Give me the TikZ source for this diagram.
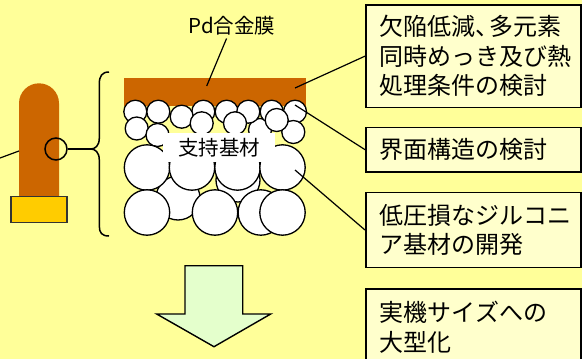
\documentclass[tikz,border=0pt]{standalone}
\usepackage{fontspec}
\setmainfont{Noto Sans CJK JP}
\begin{document}
\definecolor{bgyellow}{RGB}{255,255,153}
\definecolor{pdbrown}{RGB}{204,102,0}
\definecolor{baseyellow}{RGB}{255,204,0}
\definecolor{boxfill}{RGB}{255,255,204}
\definecolor{arrowgreen}{RGB}{228,255,204}
\begin{tikzpicture}[x=1pt,y=-1pt,
  topicbox/.style={draw=black, line width=1.6pt, fill=boxfill, anchor=north west,
    minimum width=215pt, text width=187pt, inner xsep=14pt, inner ysep=0pt,
    align=left, font=\fontsize{24}{29.5}\selectfont},
  grain/.style={draw=black, line width=1.3pt, fill=white},
  link/.style={draw=black, line width=1.2pt},
  lbl/.style={font=\fontsize{20.5}{24}\selectfont}]
\useasboundingbox (0,0) rectangle (582,359);
\fill[bgyellow] (0,0) rectangle (582,359);

% membrane tube with its fitting
\fill[pdbrown] (19,196.7) -- (19,103.3) arc[start angle=180, end angle=360, radius=20] -- (59,196.7) -- cycle;
\draw[fill=baseyellow, draw=black!80, line width=1.2pt] (11,196.7) rectangle (67,222.7);
\node[circle, draw=black, line width=1.5pt, minimum size=22pt, inner sep=0pt] (lens) at (56,149) {};
\coordinate (offl) at (0,158);
\coordinate (tubept) at (19,151);
\draw[link] (offl) -- (tubept);

% brace opening the enlarged cross-section
\coordinate (bracetip) at (90.7,149);
\draw[line width=1.5pt] (109,72) .. controls (102,72) and (99.3,76) .. (99.3,84) -- (99.3,138)
  .. controls (99.3,146) and (95,149) .. (bracetip)
  .. controls (95,149) and (99.3,152) .. (99.3,160) -- (99.3,226)
  .. controls (99.3,233) and (102,236) .. (109,236);
\draw[line width=1.5pt] (lens) -- (bracetip);

% Pd alloy film
\fill[pdbrown] (124,77.7) rectangle (306,106);

% porous support particles, back to front
\foreach \cx/\cy/\r in {178/198/22, 238/180/22, 260/130/11.5}
  \draw[grain] (\cx,\cy) circle[radius=\r];
\foreach \cx in {135.3,158.3,203.3,226.7,248.3,271.7,295}
  \draw[grain] (\cx,111.7) circle[radius=11.5];
\draw[grain] (181.7,116.7) circle[radius=11.5];
\foreach \cx/\cy in {136.7/128.5, 157.5/135, 201.7/123.3, 235/123.3, 293.3/132, 276.7/120}
  \draw[grain] (\cx,\cy) circle[radius=11.5];
\foreach \cx in {147,192,237.5,282.5}
  \draw[grain] (\cx,167.5) circle[radius=22.7];
\foreach \cx in {147,215,260.8,282.5}
  \draw[grain] (\cx,212.5) circle[radius=22.7];

\node[lbl, fill=white, minimum width=112pt, minimum height=28.4pt, inner sep=0pt] (support) at (219,147.5) {支持基材};
\node[lbl] (pd) at (232,25.5) {Pd合金膜};

% topic boxes
\node[topicbox, minimum height=102.7pt] (box1) at (365,4)
  {欠陥低減、\kern-0.45em 多元素\\同時めっき及び熱\\処理条件の検討};
\node[topicbox, minimum height=44.3pt] (box2) at (365,126.7) {界面構造の検討};
\node[topicbox, minimum height=75pt] (box3) at (365,191.7) {低圧損なジルコニ\\ア基材の開発};
\node[topicbox, minimum height=76pt] (box4) at (365,288.3) {実機サイズへの\\大型化};

% leader lines
\coordinate (memtop) at (206.7,86);
\coordinate (memedge) at (295,88);
\coordinate (grainA) at (295,105);
\coordinate (grainB) at (295,170);
\draw[link] (pd) -- (memtop);
\draw[link] (memedge) -- (box1.west);
\draw[link] (grainA) -- (box2.west);
\draw[link] (grainB) -- (box3.west);

% scale-up arrow
\draw[fill=arrowgreen, line width=1.4pt, line join=miter]
  (185,265.7) -- (242.7,265.7) -- (242.7,314) -- (270.7,314) -- (214,346.7)
  -- (156.7,314) -- (185,314) -- cycle;
\end{tikzpicture}
\end{document}
